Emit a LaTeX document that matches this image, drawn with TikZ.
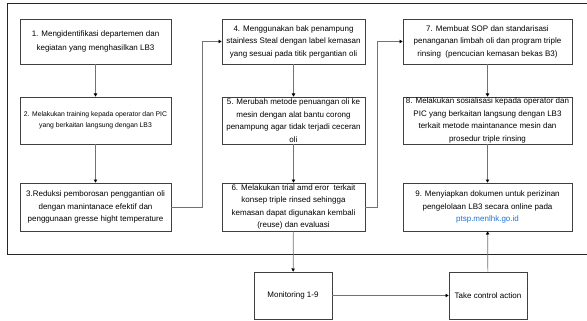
\documentclass[tikz,border=0pt]{standalone}
\usepackage{fontspec}
\setmainfont{Liberation Sans}
\usepackage{xcolor}
\usetikzlibrary{
  arrows.meta,
  shadows,
  positioning
}
\definecolor{linkblue}{RGB}{30,115,215}
\tikzset{
  box/.style={
    draw=black!75, line width=0.6pt, fill=white,
    align=center, inner sep=0.5pt,
    font=\fontsize{8}{12.5}\selectfont,
    drop shadow={shadow xshift=0.7pt, shadow yshift=-0.7pt, opacity=0.45}
  },
  conn/.style={draw=black!55, line width=0.7pt,
    -{Triangle[length=3.2pt, width=3.4pt, black]}},
  frame/.style={draw=black!85, line width=0.8pt},
  small/.style={font=\fontsize{6.8}{11}\selectfont},
  airy/.style={font=\fontsize{8}{14.5}\selectfont},
}

\begin{document}
\begin{tikzpicture}[x=1pt, y=-1pt]

\useasboundingbox (0,0) rectangle (587,321);

% open frame round the nine steps
\draw[frame] (587,3) -- (7,3) -- (7,254) -- (587,254);

% first column
\node[box, airy, minimum width=151, minimum height=45] (b1) at (95.5,41.5)
  {1. Mengidentifikasi departemen dan\\kegiatan yang menghasilkan LB3};
\node[box, small, minimum width=151, minimum height=47] (b2) at (95.5,120.5)
  {2. Melakukan training kepada operator dan PIC\\yang berkaitan langsung dengan LB3};
\node[box, minimum width=151, minimum height=48] (b3) at (95.5,207)
  {3.Reduksi pemborosan penggantian oli\\dengan manintanace efektif dan\\penggunaan gresse hight temperature};

% second column
\node[box, minimum width=143, minimum height=45] (b4) at (293.5,41.5)
  {4. Menggunakan bak penampung\\stainless Steal dengan label kemasan\\yang sesuai pada titik pergantian oli};
\node[box, minimum width=143, minimum height=47] (b5) at (293.5,120.5)
  {5. Merubah metode penuangan oli ke\\mesin dengan alat bantu corong\\penampung agar tidak terjadi ceceran\\oli};
\node[box, minimum width=143, minimum height=48] (b6) at (293.5,207)
  {6. Melakukan trial amd eror\ \ terkait\\konsep triple rinsed sehingga\\kemasan dapat digunakan kembali\\(reuse) dan evaluasi};

% third column
\node[box, minimum width=169, minimum height=45] (b7) at (487.5,41.5)
  {7. Membuat SOP dan standarisasi\\penanganan limbah oli dan program triple\\rinsing\ \ (pencucian kemasan bekas B3)};
\node[box, minimum width=169, minimum height=47] (b8) at (487.5,120.5)
  {8. Melakukan sosialisasi kepada operator dan\\PIC yang berkaitan langsung dengan LB3\\terkait metode maintanance mesin dan\\prosedur triple rinsing};
\node[box, minimum width=169, minimum height=48] (b9) at (487.5,207)
  {9. Menyiapkan dokumen untuk perizinan\\pengelolaan LB3 secara online pada\\\textcolor{linkblue}{ptsp.menlhk.go.id}};

% control loop below the frame
\node[box, minimum width=78, minimum height=47] (mon) at (293,295.5) {Monitoring 1-9};
\node[box, minimum width=78, minimum height=47] (act) at (488,295.5) {Take control action};

% connectors
\draw[conn] (b1) -- (b2);
\draw[conn] (b2) -- (b3);
\draw[conn] (b3.east) -- ++(31,0) |- (b4.west);
\draw[conn] (b4) -- (b5);
\draw[conn] (b5) -- (b6);
\draw[conn] (b6.east) -- ++(12,0) |- (b7.west);
\draw[conn] (b7) -- (b8);
\draw[conn] (b8) -- (b9);
\draw[conn] (b6) -- (mon);
\draw[conn] (mon) -- (act);
\draw[conn] (act) -- (b9);

\end{tikzpicture}
\end{document}
